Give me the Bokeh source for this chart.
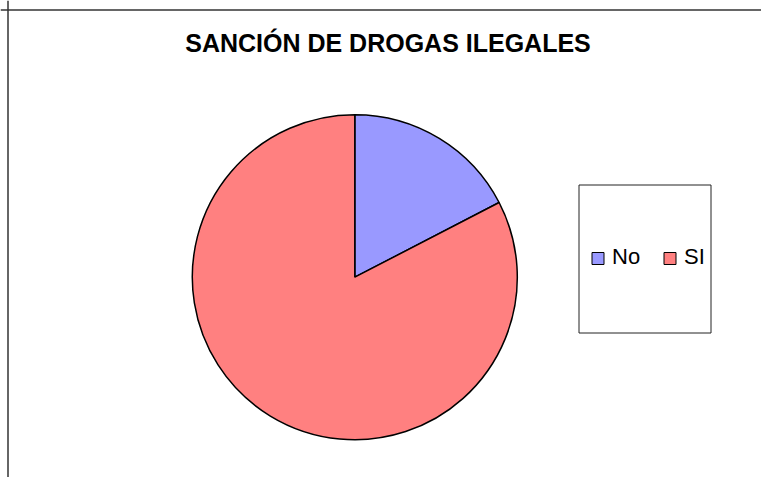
import numpy as np
from bokeh.plotting import figure
from bokeh.models import ColumnDataSource, Span, Range1d
from bokeh.core.properties import value
from bokeh.embed import file_html
from bokeh.resources import INLINE

# ---- data ----
categories = ["No", "SI"]
values = [17.4, 82.6]
colors = ["#9999FF", "#FF8080"]
title_text = "SANCIÓN DE DROGAS ILEGALES"

FONT = "Liberation Sans"
W, H = 761, 477

p = figure(width=W, height=H, x_range=Range1d(0, W), y_range=Range1d(0, H),
           output_backend="svg", toolbar_location=None, min_border=0,
           x_axis_location=None, y_axis_location=None)
p.grid.visible = False
p.outline_line_color = None
p.background_fill_color = "white"
p.border_fill_color = "white"

# chart border (only top & left visible in the reference)
p.add_layout(Span(location=467.5, dimension="width", line_color="#333333", line_width=1.5))
p.add_layout(Span(location=7.5, dimension="height", line_color="#333333", line_width=1.5))

# pie
vals = np.array(values, dtype=float)
frac = vals / vals.sum()
cum = np.cumsum(frac)
start = np.pi / 2 - 2 * np.pi * (cum - frac)
end = np.pi / 2 - 2 * np.pi * cum
src = ColumnDataSource(dict(cat=categories, start=start, end=end, color=colors))
p.wedge(x=354.3, y=200.3, radius=162.5, start_angle="start", end_angle="end",
        direction="clock", fill_color="color", line_color="black", line_width=1.5,
        source=src)

# title
p.text(x=[387.5], y=[435], text=[title_text], text_align="center",
       text_baseline="alphabetic", text_font=value(FONT), text_font_style="bold",
       text_font_size="25px", text_color="black")

# legend box
p.quad(left=[578.5], right=[710.5], top=[292.5], bottom=[144.5], fill_color="white",
       line_color="#222222", line_width=1)
lx = [597.5 + 72 * i for i in range(len(categories))]
ly = [219] * len(categories)
lsrc = ColumnDataSource(dict(x=lx, y=ly, tx=[x + 14 for x in lx], ty=[221.5] * len(categories),
                             cat=categories, color=colors))
p.scatter(x="x", y="y", marker="square", size=12, fill_color="color",
          line_color="black", line_width=1, source=lsrc)
p.text(x="tx", y="ty", text="cat", text_align="left", text_baseline="alphabetic",
       text_font=value(FONT), text_font_size="22px", text_color="black", source=lsrc)

open("out.html", "w").write(file_html(p, INLINE))
